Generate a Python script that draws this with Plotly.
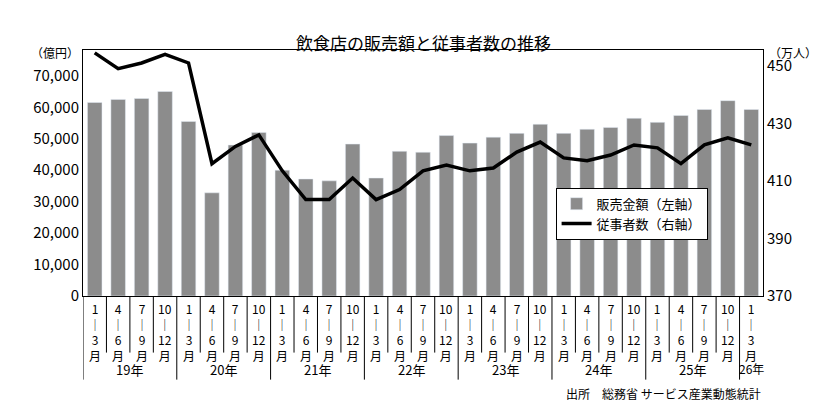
import plotly.graph_objects as go

years = ["19年", "20年", "21年", "22年", "23年", "24年", "25年", "26年"]
quarters = ["1<br>│<br>3<br>月", "4<br>│<br>6<br>月", "7<br>│<br>9<br>月", "10<br>│<br>12<br>月"]
sales = [61500, 62500, 62800, 65000, 55500, 32800, 48000, 52000,
         40000, 37200, 36600, 48300, 37500, 46000, 45700, 51000,
         48600, 50500, 51700, 54600, 51700, 53000, 53600, 56500,
         55200, 57400, 59300, 62100, 59300]
workers = [454.5, 449, 451, 454, 451, 416, 422, 426,
           413.5, 403.5, 403.5, 411, 403.5, 407, 413.5, 415.5,
           413.5, 414.5, 420, 423.5, 418, 417, 419, 422.5,
           421.5, 416, 422.5, 425, 422.5]

n = len(sales)
x = list(range(n))
font = "Noto Sans CJK JP"

fig = go.Figure()
fig.add_trace(go.Bar(x=x, y=sales, name="販売金額（左軸）", marker_color="#8c8c8c", width=0.62))
fig.add_trace(go.Scatter(x=x, y=workers, name="従事者数（右軸）", yaxis="y2", mode="lines",
                         line=dict(color="black", width=3.5)))

fig.update_layout(
    width=820, height=410, margin=dict(l=75, r=65, t=42, b=122),
    plot_bgcolor="white", paper_bgcolor="white",
    font=dict(family=font, color="black", size=13),
    bargap=0.35,
    xaxis=dict(range=[-0.5, n - 0.5], showticklabels=False, showline=True, linecolor="black",
               linewidth=1, mirror=True, ticks=""),
    yaxis=dict(range=[0, 78200], tickvals=list(range(0, 70001, 10000)), tickformat=",",
               showgrid=False, showline=True, linecolor="black", ticks="", tickfont=dict(size=15)),
    yaxis2=dict(range=[370, 455.5], tickvals=[370, 390, 410, 430, 450], overlaying="y", side="right",
                showgrid=False, showline=True, linecolor="black", ticks="", tickfont=dict(size=15)),
    legend=dict(x=0.695, y=0.44, xanchor="left", yanchor="top", bordercolor="black", borderwidth=1,
                bgcolor="white", font=dict(size=13)),
    showlegend=True,
)

fig.add_annotation(text="飲食店の販売額と従事者数の推移", x=0.5, y=1.0, xref="paper", yref="paper",
                   yshift=22, showarrow=False, font=dict(size=17))
fig.add_annotation(text="（億円）", x=0, y=1, xref="paper", yref="paper", xanchor="right",
                   xshift=-2, yshift=8, showarrow=False, font=dict(size=12))
fig.add_annotation(text="（万人）", x=1, y=1, xref="paper", yref="paper", xanchor="left",
                   xshift=4, yshift=8, showarrow=False, font=dict(size=12))
fig.add_annotation(text="出所　総務省 サービス産業動態統計", x=1, y=-0.355, xref="paper", yref="paper",
                   xanchor="right", yanchor="top", showarrow=False, font=dict(size=12))

for i in x:
    fig.add_annotation(text=quarters[i % 4], x=i, y=0, xref="x", yref="paper", yanchor="top",
                       yshift=-2, showarrow=False, font=dict(size=12))
    if i > 0:
        bottom = -0.34 if i % 4 == 0 else -0.23
        fig.add_shape(type="line", x0=i - 0.5, x1=i - 0.5, y0=0, y1=bottom, xref="x", yref="paper",
                      line=dict(color="black", width=1))
fig.add_shape(type="line", x0=-0.5, x1=-0.5, y0=0, y1=-0.34, xref="x", yref="paper",
              line=dict(color="black", width=1))

for k, yr in enumerate(years):
    cx = k * 4 + 1.5 if k < len(years) - 1 else n - 1
    fig.add_annotation(text=yr, x=cx, y=-0.25, xref="x", yref="paper", yanchor="top",
                       showarrow=False, font=dict(size=12 if k == len(years) - 1 else 13))

fig.write_html("out.html")
